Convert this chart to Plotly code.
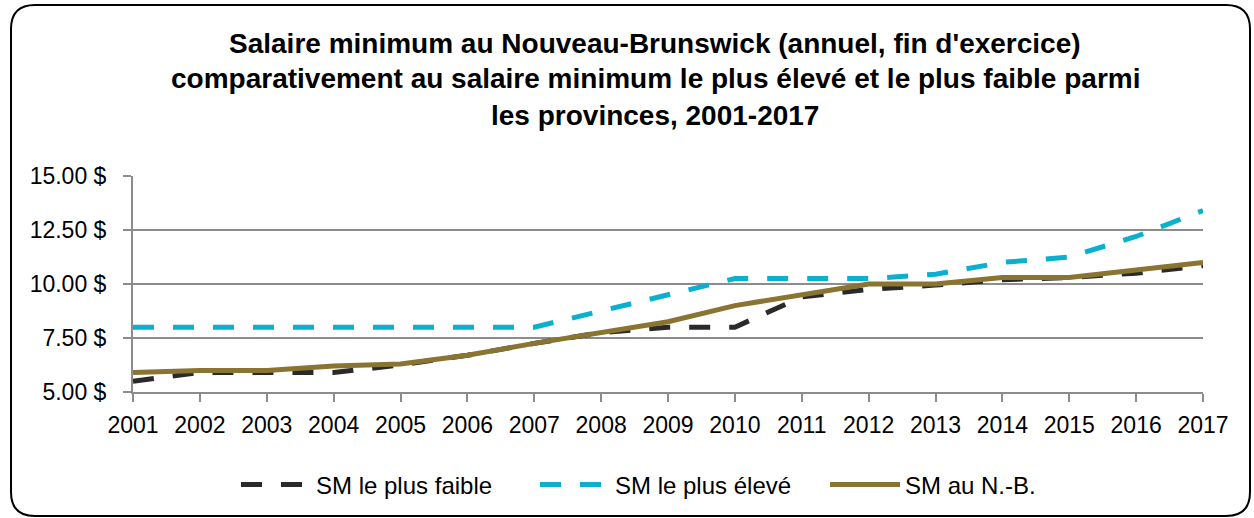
import plotly.graph_objects as go

years = list(range(2001, 2018))
sm_faible = [5.50, 5.90, 5.90, 5.90, 6.25, 6.70, 7.25, 7.75, 8.00, 8.00, 9.40, 9.75, 9.95, 10.20, 10.30, 10.50, 10.85]
sm_eleve = [8.00, 8.00, 8.00, 8.00, 8.00, 8.00, 8.00, 8.75, 9.50, 10.25, 10.25, 10.25, 10.45, 11.00, 11.25, 12.20, 13.40]
sm_nb = [5.90, 6.00, 6.00, 6.20, 6.30, 6.70, 7.25, 7.75, 8.25, 9.00, 9.50, 10.00, 10.00, 10.30, 10.30, 10.65, 11.00]
y_ticks = [5.0, 7.5, 10.0, 12.5, 15.0]
title_lines = [
    "Salaire minimum au Nouveau-Brunswick (annuel, fin d'exercice)",
    "comparativement au salaire minimum le plus élevé et le plus faible parmi",
    "les provinces, 2001-2017",
]
names = ["SM le plus faible", "SM le plus élevé", "SM au N.-B."]
colors = ["#2a2a2a", "#0bb0cf", "#8a7431"]

W, H = 1254, 518
L, R, T, B = 133, 1203, 176, 392
def px(x):
    return (x - L) / (R - L)
def py(y):
    return (B - y) / (B - T)

font = "Liberation Sans"
legend_x = [236, 535, 825]

fig = go.Figure()
fig.add_trace(go.Scatter(x=years, y=sm_faible, name=names[0], mode="lines", legend="legend",
                         line=dict(color=colors[0], width=5, dash="21px,19px")))
fig.add_trace(go.Scatter(x=years, y=sm_eleve, name=names[1], mode="lines", legend="legend2",
                         line=dict(color=colors[1], width=5, dash="21px,19px")))
fig.add_trace(go.Scatter(x=years, y=sm_nb, name=names[2], mode="lines", legend="legend3",
                         line=dict(color=colors[2], width=5)))

for i, t in enumerate(title_lines):
    fig.add_annotation(text="<b>" + t + "</b>", x=px(655), y=py(43 + 36 * i),
                       xref="paper", yref="paper", xanchor="center", yanchor="middle",
                       showarrow=False, font=dict(family=font, size=28, color="#000000"))

# rounded border
l, t, r, b, rad = 11, 5, 1250, 516, 24
path = (f"M {px(l+rad)},{py(t)} L {px(r-rad)},{py(t)} Q {px(r)},{py(t)} {px(r)},{py(t+rad)} "
        f"L {px(r)},{py(b-rad)} Q {px(r)},{py(b)} {px(r-rad)},{py(b)} "
        f"L {px(l+rad)},{py(b)} Q {px(l)},{py(b)} {px(l)},{py(b-rad)} "
        f"L {px(l)},{py(t+rad)} Q {px(l)},{py(t)} {px(l+rad)},{py(t)} Z")
fig.add_shape(type="path", path=path, xref="paper", yref="paper",
              line=dict(color="#000000", width=2), layer="below")

def leg(x):
    return dict(orientation="h", x=px(x), y=py(485), xanchor="left", yanchor="middle",
                itemwidth=70, font=dict(family=font, size=24, color="#000000"),
                bgcolor="rgba(0,0,0,0)")

fig.update_layout(
    width=W, height=H,
    margin=dict(l=L, r=W - R, t=T, b=H - B, autoexpand=False),
    paper_bgcolor="white", plot_bgcolor="white",
    font=dict(family=font, size=23, color="#000000"),
    showlegend=True,
    legend=leg(legend_x[0]), legend2=leg(legend_x[1]), legend3=leg(legend_x[2]),
    xaxis=dict(range=[2001, 2017], tickmode="array", tickvals=years,
               ticktext=[str(y) for y in years], showgrid=False,
               showline=True, linecolor="#8c8c8c", linewidth=2,
               ticks="outside", ticklen=8, tickcolor="#8c8c8c", tickwidth=2,
               ticklabelstandoff=3, zeroline=False, fixedrange=True),
    yaxis=dict(range=[5, 15], tickmode="array", tickvals=y_ticks,
               ticktext=[f"{v:.2f} $" for v in y_ticks],
               showgrid=True, gridcolor="#8c8c8c", gridwidth=2,
               showline=True, linecolor="#8c8c8c", linewidth=2,
               ticks="outside", ticklen=8, tickcolor="#8c8c8c", tickwidth=2,
               ticklabelstandoff=12, zeroline=False, fixedrange=True),
)

fig.write_html("out.html", config={"displayModeBar": False},
               post_script="document.body.style.margin='0';")
